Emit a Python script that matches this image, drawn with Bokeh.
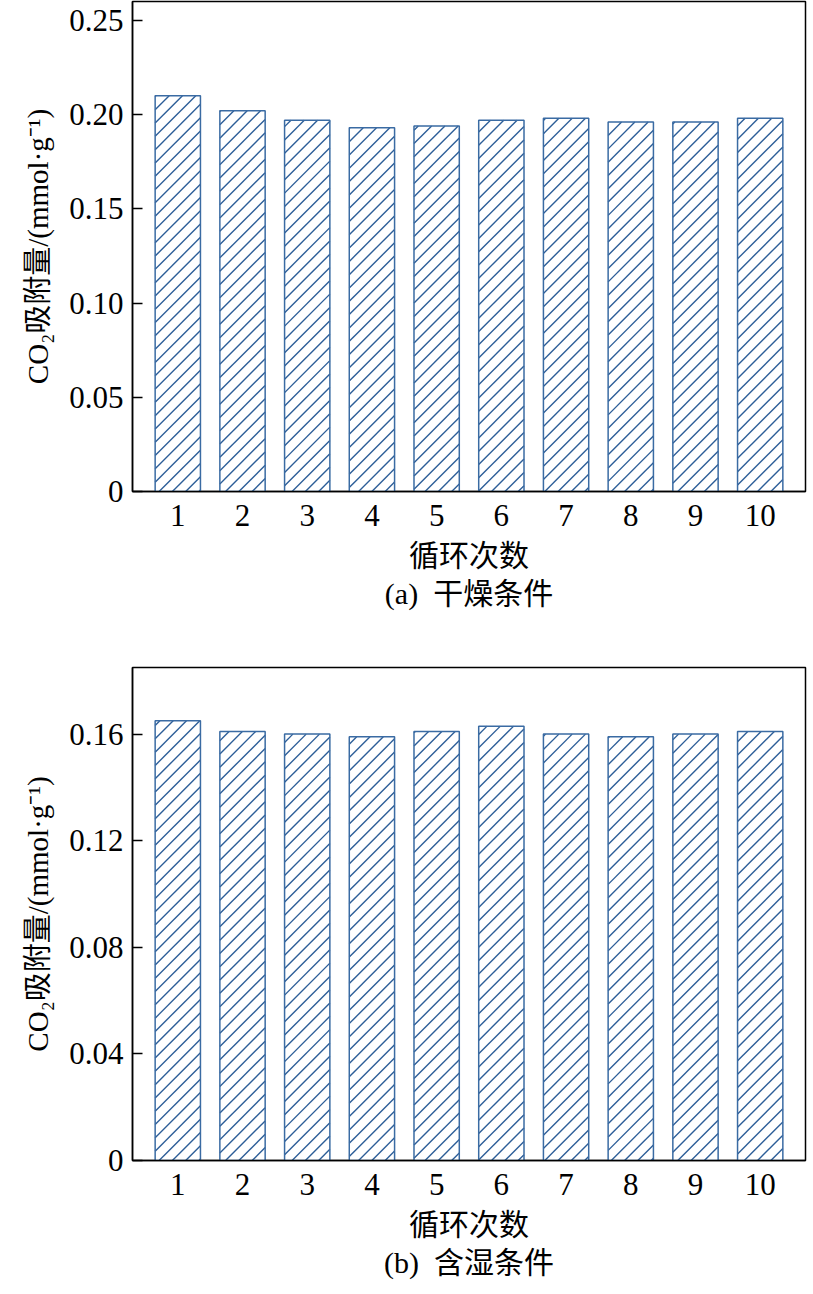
import math
from bokeh.plotting import figure
from bokeh.layouts import column
from bokeh.models import FixedTicker, CustomJSTickFormatter, Title
from bokeh.embed import file_html
from bokeh.resources import INLINE

# ---- data ----
cycles = [1, 2, 3, 4, 5, 6, 7, 8, 9, 10]
dry_uptake = [0.210, 0.202, 0.197, 0.193, 0.194, 0.197, 0.198, 0.196, 0.196, 0.198]
humid_uptake = [0.165, 0.161, 0.160, 0.159, 0.161, 0.163, 0.160, 0.159, 0.160, 0.161]
yticks_a = [0, 0.05, 0.10, 0.15, 0.20, 0.25]
yticks_b = [0, 0.04, 0.08, 0.12, 0.16]
ylabel = "CO₂吸附量/(mmol·g⁻¹)"
xlabel = "循环次数"
caption_a = "(a)\u00a0\u00a0干燥条件"
caption_b = "(b)\u00a0\u00a0含湿条件"

FONT = "Liberation Serif, Noto Sans CJK SC"
BLUE = "#3a6ba3"
HATCH = "#2d5e98"

X0, X1 = 0.3, 10.7
BAR_W = 0.7
FIG_W = 808
BORDER_L, BORDER_R = 132, 3
HATCH_STEP = 13.3  # px, horizontal spacing of 45-degree hatch lines


def hatch_segments(xs, tops, frame_w, frame_h, yend):
    """45-degree '/' hatch lines (in screen space) clipped to each bar."""
    kx = frame_w / (X1 - X0)
    ky = frame_h / yend
    x0s, y0s, x1s, y1s = [], [], [], []
    for xc, top in zip(xs, tops):
        u0 = (xc - BAR_W / 2 - X0) * kx
        u1 = (xc + BAR_W / 2 - X0) * kx
        vt = top * ky
        kmin = math.floor((0 - u1) / HATCH_STEP) - 1
        kmax = math.ceil((vt - u0) / HATCH_STEP) + 1
        for k in range(kmin, kmax + 1):
            c = k * HATCH_STEP
            ua = max(u0, -c)
            ub = min(u1, vt - c)
            if ub - ua > 0.5:
                x0s.append(X0 + ua / kx)
                y0s.append((ua + c) / ky)
                x1s.append(X0 + ub / kx)
                y1s.append((ub + c) / ky)
    return x0s, y0s, x1s, y1s


def make_panel(values, yend, yticks, caption, height, top_border, bottom_border):
    p = figure(width=FIG_W, height=height, x_range=(X0, X1), y_range=(0, yend),
               output_backend="svg", toolbar_location=None,
               min_border_left=BORDER_L, min_border_right=BORDER_R,
               min_border_top=top_border, min_border_bottom=bottom_border)
    frame_w = FIG_W - BORDER_L - BORDER_R
    frame_h = height - top_border - bottom_border
    p.vbar(x=cycles, top=values, bottom=0, width=BAR_W,
           fill_color="white", line_color=None)
    hx0, hy0, hx1, hy1 = hatch_segments(cycles, values, frame_w, frame_h, yend)
    p.segment(x0=hx0, y0=hy0, x1=hx1, y1=hy1, line_color=HATCH, line_width=1.4)
    p.vbar(x=cycles, top=values, bottom=0, width=BAR_W,
           fill_alpha=0, line_color=BLUE, line_width=1.5)
    p.grid.visible = False
    p.outline_line_color = "black"
    p.outline_line_width = 1.5
    p.background_fill_color = "white"
    p.border_fill_color = "white"

    xa = p.xaxis[0]
    xa.ticker = FixedTicker(ticks=cycles)
    xa.major_tick_in = 0
    xa.major_tick_out = 0
    xa.minor_tick_line_color = None
    xa.axis_line_color = "black"
    xa.axis_line_width = 1.5
    xa.major_label_text_font = FONT
    xa.major_label_text_font_size = "31px"
    xa.major_label_text_color = "black"
    xa.major_label_standoff = 13
    xa.axis_label = xlabel
    xa.axis_label_text_font = FONT
    xa.axis_label_text_font_size = "30px"
    xa.axis_label_text_font_style = "normal"
    xa.axis_label_text_color = "black"
    xa.axis_label_standoff = 10

    ya = p.yaxis[0]
    ya.ticker = FixedTicker(ticks=yticks)
    ya.formatter = CustomJSTickFormatter(code="return tick == 0 ? '0' : tick.toFixed(2);")
    ya.major_tick_in = 10
    ya.major_tick_out = 0
    ya.major_tick_line_width = 1.5
    ya.minor_tick_line_color = None
    ya.axis_line_color = "black"
    ya.axis_line_width = 1.5
    ya.major_label_text_font = FONT
    ya.major_label_text_font_size = "31px"
    ya.major_label_text_color = "black"
    ya.major_label_standoff = 9
    ya.axis_label = ylabel
    ya.axis_label_text_font = FONT
    ya.axis_label_text_font_size = "29px"
    ya.axis_label_text_font_style = "normal"
    ya.axis_label_text_color = "black"
    ya.axis_label_standoff = 12

    p.add_layout(Title(text=caption, align="center", text_font=FONT,
                       text_font_size="30px", text_font_style="normal",
                       text_color="black", standoff=0), "below")
    return p


p1 = make_panel(dry_uptake, 0.26, yticks_a, caption_a, 630, 1, 139)
p2 = make_panel(humid_uptake, 0.185, yticks_b, caption_b, 664, 37, 134)

layout = column(p1, p2, spacing=0)
open("out.html", "w").write(file_html(layout, INLINE))
